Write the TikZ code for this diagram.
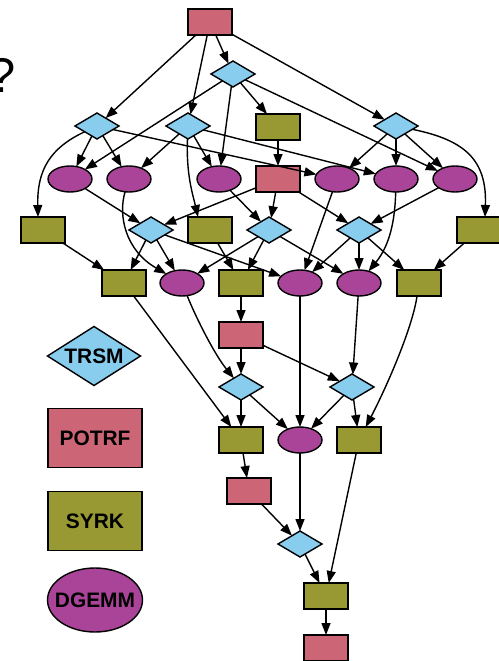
\documentclass[tikz,border=0pt]{standalone}
\usepackage{fontspec}
\setmainfont{Liberation Sans}
\usetikzlibrary{shapes.geometric,arrows.meta}

\definecolor{trsmc}{HTML}{88CCEE}
\definecolor{potrfc}{HTML}{CC6677}
\definecolor{syrkc}{HTML}{999933}
\definecolor{gemmc}{HTML}{AA4499}

\begin{document}
\begin{tikzpicture}[x=1bp,y=-1bp,
  task/.style={draw=black,line width=1.4bp,inner sep=0pt,outer sep=0pt,
               minimum width=44bp,minimum height=26bp},
  trsm/.style={task,diamond,fill=trsmc},
  potrf/.style={task,rectangle,fill=potrfc},
  syrk/.style={task,rectangle,fill=syrkc},
  gemm/.style={task,ellipse,fill=gemmc},
  dep/.style={line width=1.4bp,-{Triangle[length=12bp,width=9bp]}},
  keytext/.style={font=\fontsize{21}{25}\selectfont\bfseries},
]
\useasboundingbox (0,0) rectangle (499,661);

% question mark, partly cut by the left edge
\node[font=\fontsize{49}{50}\selectfont,anchor=base west,inner sep=0pt] (qmark) at (-11.5,93) {?};

% step 0
\node[potrf] (p0)   at (210,22)  {};
\node[trsm]  (t10)  at (233,74)  {};
\node[trsm]  (t30)  at (97,126)  {};
\node[trsm]  (t20)  at (188,126) {};
\node[syrk]  (s10)  at (278,127) {};
\node[trsm]  (t40)  at (396,126) {};
\node[gemm]  (g31a) at (70,179)  {};
\node[gemm]  (g32a) at (129,179) {};
\node[gemm]  (g21a) at (219,179) {};
\node[gemm]  (g43a) at (337,179) {};
\node[gemm]  (g42a) at (396,179) {};
\node[gemm]  (g41a) at (455,179) {};
\node[syrk]  (s30)  at (43,230)  {};
\node[syrk]  (s20)  at (210,230) {};
\node[syrk]  (s40)  at (479,230) {};

% step 1
\node[potrf] (p1)   at (278,179) {};
\node[trsm]  (t31)  at (151,230) {};
\node[trsm]  (t21)  at (269,230) {};
\node[trsm]  (t41)  at (359,230) {};
\node[syrk]  (s31)  at (124,283) {};
\node[gemm]  (g32b) at (182,283) {};
\node[syrk]  (s21)  at (241,283) {};
\node[gemm]  (g43b) at (300,283) {};
\node[gemm]  (g42b) at (359,283) {};
\node[syrk]  (s41)  at (419,283) {};

% step 2
\node[potrf] (p2)   at (241,335) {};
\node[trsm]  (t32)  at (241,387) {};
\node[trsm]  (t42)  at (352,387) {};
\node[syrk]  (s32)  at (241,440) {};
\node[gemm]  (g43c) at (300,440) {};
\node[syrk]  (s42)  at (359,440) {};

% step 3 and 4
\node[potrf] (p3)   at (249,491) {};
\node[trsm]  (t43)  at (300,544) {};
\node[syrk]  (s43)  at (326,596) {};
\node[potrf] (p4)   at (326,648) {};

% key
\node[trsm,keytext,minimum width=93bp,minimum height=59bp]  (ktrsm)  at (94,356) {\makebox[0pt]{TRSM}};
\node[potrf,keytext,minimum width=94bp,minimum height=59bp] (kpotrf) at (95,438) {\makebox[0pt]{POTRF}};
\node[syrk,keytext,minimum width=94bp,minimum height=59bp]  (ksyrk)  at (95,521) {\makebox[0pt]{SYRK}};
\node[gemm,keytext,minimum width=95bp,minimum height=64bp]  (kgemm)  at (95,600) {\makebox[0pt]{DGEMM}};

% dependencies, step 0
\draw[dep] (p0) -- (t30);
\draw[dep] (p0) -- (t20);
\draw[dep] (p0) -- (t10);
\draw[dep] (p0) -- (t40);
\draw[dep] (t10) -- (s10);
\draw[dep] (t10) -- (g31a);
\draw[dep] (t10) -- (g21a);
\draw[dep] (t10) -- (g41a);
\draw[dep] (t30) .. controls (50,148) and (37,170) .. ([xshift=-5bp]s30.north);
\draw[dep] (t30) -- (g31a);
\draw[dep] (t30) -- (g32a);
\draw[dep] (t30) -- (g43a);
\draw[dep] (t20) .. controls (186,175) and (193,195) .. ([xshift=-12bp]s20.north);
\draw[dep] (t20) -- (g32a);
\draw[dep] (t20) -- (g21a);
\draw[dep] (t20) -- (g42a);
\draw[dep] (t40) .. controls (465,140) and (487,160) .. ([xshift=6bp]s40.north);
\draw[dep] (t40) -- (g43a);
\draw[dep] (t40) -- (g42a);
\draw[dep] (t40) -- (g41a);
\draw[dep] (s10) -- (p1);

% dependencies, step 1
\draw[dep] (p1) -- (t31);
\draw[dep] (p1) -- (t21);
\draw[dep] (p1) -- (t41);
\draw[dep] (g31a) -- (t31);
\draw[dep] (g21a) -- (t21);
\draw[dep] (g41a) -- (t41);
\draw[dep] (g32a) .. controls (118,215) and (125,250) .. (g32b);
\draw[dep] (g43a) -- (g43b);
\draw[dep] (g42a) .. controls (395,220) and (390,245) .. (g42b);
\draw[dep] (s30) -- (s31);
\draw[dep] (s20) -- (s21);
\draw[dep] (s40) -- (s41);
\draw[dep] (t31) -- (s31);
\draw[dep] (t31) -- (g32b);
\draw[dep] (t31) -- (g43b);
\draw[dep] (t21) -- (g32b);
\draw[dep] (t21) -- (s21);
\draw[dep] (t21) -- (g42b);
\draw[dep] (t41) -- (g43b);
\draw[dep] (t41) -- (g42b);
\draw[dep] (t41) -- (s41);
\draw[dep] (s21) -- (p2);

% dependencies, step 2
\draw[dep] (p2) -- (t32);
\draw[dep] (p2) -- (t42);
\draw[dep] (g32b) .. controls (197,320) and (215,355) .. (t32);
\draw[dep] (g42b) -- (t42);
\draw[dep] (s31) -- (s32);
\draw[dep] (t32) -- (s32);
\draw[dep] (t32) -- (g43c);
\draw[dep] (g43b) -- (g43c);
\draw[dep] (t42) -- (g43c);
\draw[dep] (t42) -- (s42);
\draw[dep] (s41) .. controls (412,330) and (385,390) .. (s42);

% dependencies, steps 3 and 4
\draw[dep] (s32) -- (p3);
\draw[dep] (p3) -- (t43);
\draw[dep] (g43c) -- (t43);
\draw[dep] (t43) -- (s43);
\draw[dep] (s42) -- (s43);
\draw[dep] (s43) -- (p4);
\end{tikzpicture}
\end{document}
